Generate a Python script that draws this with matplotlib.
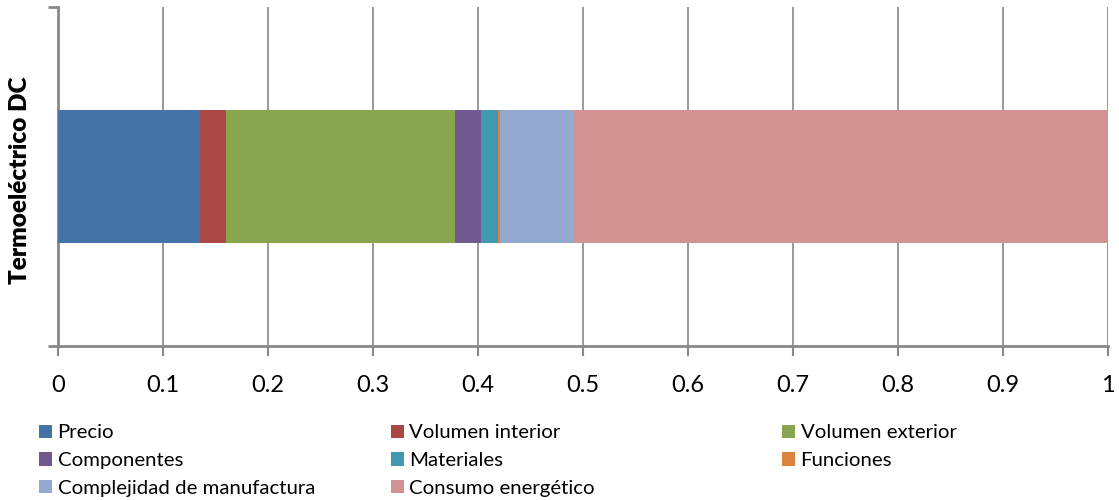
import matplotlib.pyplot as plt
from matplotlib.patches import Patch

# datos del gráfico de barras apiladas
categoria = "Termoeléctrico DC"
criterios = ["Precio", "Volumen interior", "Volumen exterior", "Componentes",
             "Materiales", "Funciones", "Complejidad de manufactura", "Consumo energético"]
pesos = [0.135, 0.0255, 0.2173, 0.0257, 0.0159, 0.0022, 0.0699, 0.5088]
colores = ["#4572A7", "#AA4643", "#89A54E", "#71588F",
           "#4198AF", "#DB843D", "#93A9CF", "#D19392"]
ticks_x = [0, 0.1, 0.2, 0.3, 0.4, 0.5, 0.6, 0.7, 0.8, 0.9, 1]

plt.rcParams['font.family'] = ['Lato', 'DejaVu Sans']

fig = plt.figure(figsize=(11.19, 5.0), dpi=100)
ax = fig.add_axes([0.0518, 0.308, 0.938, 0.678])

izq = 0
for p, c, nom in zip(pesos, colores, criterios):
    ax.barh(0, p, left=izq, height=0.392, color=c, label=nom, zorder=3)
    izq += p

ax.set_xlim(0, 1)
ax.set_ylim(-0.5, 0.5)
ax.set_xticks(ticks_x)
ax.set_xticklabels([f"{t:g}" for t in ticks_x], fontsize=17)
ax.set_yticks([-0.5, 0.5])
ax.set_yticklabels([])
ax.grid(axis='x', color='#888888', linewidth=1.2, zorder=0)

gris = '#888888'
for s in ['top', 'right']:
    ax.spines[s].set_visible(False)
for s in ['left', 'bottom']:
    ax.spines[s].set_color(gris)
    ax.spines[s].set_linewidth(2)
ax.tick_params(axis='x', direction='out', length=7, width=1.5, color=gris, pad=14)
ax.tick_params(axis='y', direction='out', length=7, width=2, color=gris)

# etiqueta de la categoría, vertical
fig.text(0.018, 0.64, categoria, rotation=90, fontsize=17.5, fontweight='heavy',
         ha='center', va='center')

# leyenda en tres columnas
mapa = dict(zip(criterios, colores))
columnas = [["Precio", "Componentes", "Complejidad de manufactura"],
            ["Volumen interior", "Materiales", "Consumo energético"],
            ["Volumen exterior", "Funciones"]]
x_col = [0.035, 0.349, 0.699]
for xc, col in zip(x_col, columnas):
    handles = [Patch(facecolor=mapa[n], edgecolor='none') for n in col]
    fig.legend(handles, col, loc='upper left', bbox_to_anchor=(xc, 0.151),
               frameon=False, fontsize=14.7, handlelength=0.65, handleheight=0.65,
               handletextpad=0.25, labelspacing=0.52, borderpad=0, borderaxespad=0)

fig.savefig("out.png", dpi=100)
